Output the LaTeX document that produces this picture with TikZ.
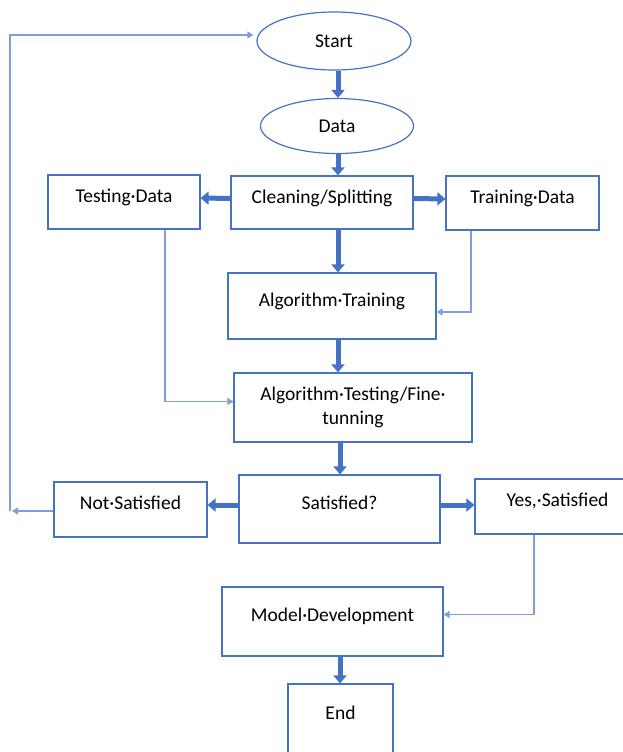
\documentclass[tikz,border=0pt]{standalone}
\usepackage{fontspec}
\setmainfont{Carlito}
\usetikzlibrary{shapes.geometric,arrows.meta}
\definecolor{boxblue}{HTML}{4472C4}
\definecolor{lineblue}{HTML}{7F9FDC}
\tikzset{
    box/.style={draw=boxblue, line width=1.2pt, inner sep=0pt, align=center, font=\fontsize{19.5}{24}\selectfont},
    oval/.style={box, ellipse},
    thick arrow/.style={draw=boxblue, line width=5pt, -{Triangle[width=13pt,length=8pt]}},
    thin arrow/.style={draw=lineblue, line width=1.4pt, -{Triangle[width=7pt,length=6pt]}}
}
\begin{document}
\begin{tikzpicture}[x=1pt,y=-1pt]
    \useasboundingbox (0,0) rectangle (623,752);
    \clip (0,0) rectangle (623,752);
    \node[oval, minimum width=154, minimum height=58] (start) at (334,41) {Start};
    \node[oval, minimum width=153, minimum height=55] (data) at (337,126) {Data};
    \node[box, minimum width=152, text height=27, text depth=27, anchor=base] (testing) at (124,202) {Testing·Data};
    \node[box, minimum width=182, text height=27, text depth=26, anchor=base] (clean) at (322,203) {Cleaning/Splitting};
    \node[box, minimum width=153, text height=27, text depth=27, anchor=base] (training) at (522.5,203) {Training·Data};
    \node[box, minimum width=208, text height=33, text depth=33, anchor=base] (algtrain) at (332,306) {Algorithm·Training};
    \node[box, minimum width=238, minimum height=69] (algtest) at (353,407.5) {Algorithm·Testing/Fine·\\tunning};
    \node[box, minimum width=201, text height=34, text depth=34, anchor=base] (satisfied) at (339.5,509) {Satisfied?};
    \node[box, minimum width=153, text height=27, text depth=28, anchor=base] (notsat) at (130.5,509) {Not·Satisfied};
    \node[box, minimum width=165, text height=27, text depth=28, anchor=base] (yes) at (557.5,506) {Yes,·Satisfied};
    \node[box, minimum width=221, text height=34, text depth=35, anchor=base] (model) at (332.5,621) {Model·Development};
    \node[box, minimum width=105, text height=35, text depth=60, anchor=base] (end) at (340.5,719) {End};
    \coordinate (loop) at (10,511);
    % main flow
    \draw[thick arrow] ([xshift=4]start.south) -- ([xshift=1]data.north);
    \draw[thick arrow] ([xshift=1]data.south) -- ([xshift=1]data.south |- clean.north);
    \draw[thick arrow] ([yshift=4]clean.west) -- ([yshift=4]testing.east);
    \draw[thick arrow] ([yshift=4]clean.east) -- ([yshift=4]training.east -| training.west);
    \draw[thick arrow] ([xshift=1]data.south |- clean.south) -- ([xshift=1]data.south |- algtrain.north);
    \draw[thick arrow] ([xshift=1]data.south |- algtrain.south) -- ([xshift=1]data.south |- algtest.north);
    \draw[thick arrow] ([xshift=3]data.south |- algtest.south) -- ([xshift=3]data.south |- satisfied.north);
    \draw[thick arrow] ([yshift=4]satisfied.west) -- ([yshift=4]satisfied.west -| notsat.east);
    \draw[thick arrow] ([yshift=4]satisfied.east) -- ([yshift=4]satisfied.east -| yes.west);
    \draw[thick arrow] ([xshift=3]data.south |- model.south) -- ([xshift=3]data.south |- end.north);
    % thin links
    \draw[thin arrow] ([xshift=-51.5]training.south) |- ([yshift=-6]algtrain.east);
    \draw[thin arrow] ([xshift=41]testing.south) |- ([yshift=6]algtest.west);
    \draw[thin arrow] ([xshift=-23.5]yes.south) |- ([yshift=7]model.east);
    \draw[thin arrow] (notsat.west |- loop) -- ([xshift=2]loop);
    \draw[thin arrow] (loop) |- ([xshift=-3,yshift=6]start.west);
\end{tikzpicture}
\end{document}
